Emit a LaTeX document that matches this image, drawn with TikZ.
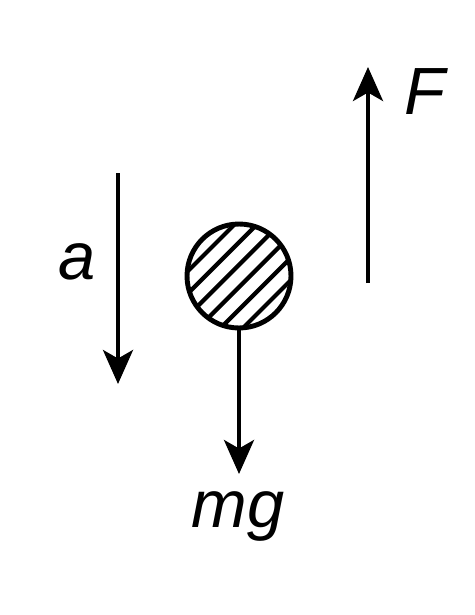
\documentclass[tikz,border=0pt]{standalone}
\usepackage{fontspec}
\setmainfont{Liberation Sans}
\usetikzlibrary{arrows.meta}
\colorlet{Trazo}{black}
\tikzset{
  fuerza/.style={Trazo, line width=2.3pt,
    -{Stealth[length=0.68cm,width=0.6cm,inset=0.17cm]}},
  rayado/.style={Trazo, line width=2.4pt},
  letra/.style={font=\fontsize{38}{40}\selectfont\itshape, inner sep=0pt}
}

\begin{document}
\begin{tikzpicture}[x=0.02cm,y=-0.02cm]
\useasboundingbox (0,0) rectangle (474,615);

\coordinate (O) at (239,276);
\coordinate (A1) at (118,173);
\coordinate (A2) at (118,384);
\coordinate (F1) at (368,283);
\coordinate (F2) at (368,67);
\coordinate (G) at (239,474);

% Rayado de la esfera
\begin{scope}
\clip (O) circle (52);
\foreach \d in {-39.6,-23.8,-7.9,7.9,23.8,39.6}
  \draw[rayado] (O) ++(\d*0.7071-70,\d*0.7071+70) -- ++(140,-140);
\end{scope}

% Contorno, despues del rayado
\node[circle, draw=Trazo, line width=2.8pt, minimum size=2.08cm,
  inner sep=0pt] (bola) at (O) {};

\draw[fuerza] (A1) -- (A2);
\draw[fuerza] (F1) -- (F2);
\draw[fuerza] (bola.south) -- (G);

\node[letra] (la) at (77,262) {a};
\node[letra] (lF) at (425,92) {F};
\node[letra] (lmg) at (238,516) {mg};

\end{tikzpicture}
\end{document}
